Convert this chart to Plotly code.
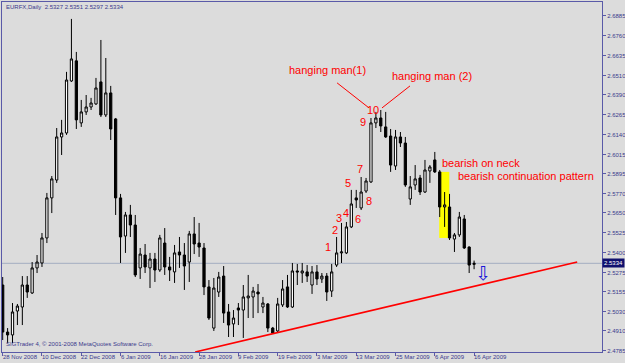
import plotly.graph_objects as go

# ---------------- data (EURFX daily, 28 Nov 2008 - 16 Apr 2009) ----------------
open_ = [2.5198, 2.4903, 2.4885, 2.5035, 2.5060, 2.5198, 2.5148, 2.5305, 2.5336, 2.5493,
         2.5744, 2.5856, 2.6126, 2.6151, 2.6477, 2.6603, 2.6214, 2.6283, 2.6314, 2.6333,
         2.6471, 2.6264, 2.6402, 2.6239, 2.5744, 2.5505, 2.5637, 2.5574, 2.5305, 2.5386,
         2.5305, 2.5361, 2.5292, 2.5461, 2.5311, 2.5280, 2.5405, 2.5386, 2.5342, 2.5518,
         2.5461, 2.5430, 2.5186, 2.4928, 2.5154, 2.5254, 2.5029, 2.4954, 2.5054, 2.5041,
         2.5117, 2.5123, 2.5154, 2.5060, 2.5079, 2.4928, 2.4910, 2.5073, 2.5186, 2.5060,
         2.5286, 2.5273, 2.5280, 2.5198, 2.5280, 2.5236, 2.5254, 2.5160, 2.5323, 2.5399,
         2.5399, 2.5562, 2.5744, 2.5681, 2.5787, 2.5844, 2.6214, 2.6245, 2.6189, 2.6132,
         2.5944, 2.6126, 2.6088, 2.5737, 2.5825, 2.5869, 2.5781, 2.5913, 2.5982, 2.5907,
         2.5687, 2.5687, 2.5486, 2.5512, 2.5612, 2.5436, 2.5327]
high = [2.5248, 2.4928, 2.5085, 2.5079, 2.5254, 2.5254, 2.5342, 2.5386, 2.5524, 2.5775,
        2.5881, 2.6182, 2.6233, 2.6534, 2.6866, 2.6659, 2.6358, 2.6389, 2.6371, 2.6496,
        2.6734, 2.6621, 2.6446, 2.6245, 2.5769, 2.5656, 2.5700, 2.5637, 2.5430, 2.5455,
        2.5399, 2.5399, 2.5512, 2.5555, 2.5374, 2.5449, 2.5499, 2.5461, 2.5537, 2.5624,
        2.5587, 2.5461, 2.5229, 2.5242, 2.5280, 2.5317, 2.5079, 2.5041, 2.5085, 2.5198,
        2.5261, 2.5186, 2.5204, 2.5123, 2.5085, 2.4935, 2.5117, 2.5229, 2.5261, 2.5336,
        2.5330, 2.5336, 2.5323, 2.5317, 2.5323, 2.5273, 2.5273, 2.5330, 2.5499, 2.5587,
        2.5593, 2.5794, 2.5794, 2.5875, 2.5869, 2.6245, 2.6283, 2.6295, 2.6283, 2.6176,
        2.6170, 2.6157, 2.6126, 2.5881, 2.5950, 2.5888, 2.5982, 2.5950, 2.6032, 2.5919,
        2.5781, 2.5769, 2.5524, 2.5656, 2.5637, 2.5440, 2.5351]
low = [2.4853, 2.4834, 2.4834, 2.4947, 2.4947, 2.5117, 2.5142, 2.5273, 2.5311, 2.5461,
       2.5649, 2.5838, 2.6013, 2.6139, 2.6471, 2.6176, 2.6189, 2.6264, 2.6295, 2.6327,
       2.6251, 2.6251, 2.6107, 2.5637, 2.5336, 2.5399, 2.5499, 2.5248, 2.5236, 2.5273,
       2.5179, 2.5217, 2.5280, 2.5261, 2.5223, 2.5211, 2.5305, 2.5167, 2.5217, 2.5392,
       2.5374, 2.5135, 2.4979, 2.4910, 2.5123, 2.4960, 2.4872, 2.4872, 2.4947, 2.4866,
       2.4991, 2.4991, 2.5022, 2.5022, 2.4903, 2.4891, 2.4903, 2.5060, 2.5054, 2.5054,
       2.5198, 2.5211, 2.5217, 2.5142, 2.5198, 2.5211, 2.5098, 2.5123, 2.5311, 2.5336,
       2.5392, 2.5555, 2.5681, 2.5668, 2.5775, 2.5838, 2.6182, 2.6157, 2.6120, 2.5907,
       2.5919, 2.6063, 2.5813, 2.5700, 2.5794, 2.5762, 2.5775, 2.5838, 2.5900, 2.5624,
       2.5562, 2.5480, 2.5405, 2.5499, 2.5424, 2.5273, 2.5297]
close = [2.4903, 2.4885, 2.5029, 2.5066, 2.5198, 2.5154, 2.5305, 2.5342, 2.5493, 2.5744,
         2.5863, 2.6126, 2.6151, 2.6483, 2.6615, 2.6233, 2.6283, 2.6314, 2.6339, 2.6433,
         2.6264, 2.6402, 2.6176, 2.5744, 2.5499, 2.5637, 2.5574, 2.5261, 2.5392, 2.5311,
         2.5361, 2.5292, 2.5493, 2.5311, 2.5292, 2.5399, 2.5386, 2.5317, 2.5518, 2.5455,
         2.5436, 2.5186, 2.4991, 2.5179, 2.5248, 2.5022, 2.4947, 2.4991, 2.5041, 2.5123,
         2.5129, 2.5160, 2.5142, 2.5085, 2.4928, 2.4897, 2.5079, 2.5173, 2.5060, 2.5286,
         2.5280, 2.5286, 2.5254, 2.5280, 2.5236, 2.5254, 2.5154, 2.5280, 2.5399, 2.5405,
         2.5562, 2.5706, 2.5731, 2.5781, 2.5850, 2.6214, 2.6245, 2.6195, 2.6126, 2.5950,
         2.6126, 2.6088, 2.5825, 2.5813, 2.5863, 2.5781, 2.5919, 2.5938, 2.5907, 2.5687,
         2.5700, 2.5493, 2.5512, 2.5624, 2.5430, 2.5323, 2.5334]

date_tick_bars = [0, 8, 16, 24, 32, 40, 48, 56, 64, 72, 80, 88, 96]
date_tick_labels = ["28 Nov 2008", "10 Dec 2008", "22 Dec 2008", "6 Jan 2009", "16 Jan 2009",
                    "28 Jan 2009", "9 Feb 2009", "19 Feb 2009", "3 Mar 2009", "13 Mar 2009",
                    "25 Mar 2009", "6 Apr 2009", "16 Apr 2009"]
price_ticks = [2.6885, 2.6760, 2.6635, 2.6510, 2.6390, 2.6265, 2.6140, 2.6015, 2.5895,
               2.5770, 2.5650, 2.5525, 2.5400, 2.5275, 2.5155, 2.5030, 2.4910, 2.4785]

# annotation text
count_labels = ["1", "2", "3", "4", "5", "6", "7", "8", "9", "10"]
count_bar = [66.25, 67.68, 68.56, 69.86, 70.39, 72.42, 72.77, 74.66, 73.44, 75.36]
count_price = [2.5436, 2.5543, 2.5618, 2.5650, 2.5838, 2.5612, 2.5925, 2.5725, 2.6220, 2.6295]

# ---------------- styling ----------------
BG = "#dcdcdc"
AXIS = "#5a5aa8"
TXT = "#3a3a8c"
RED = "#ff0000"
SMALL = dict(family="Liberation Sans, Arial, sans-serif", size=6, color=TXT)
LABEL = dict(family="Liberation Sans, Arial, sans-serif", size=11, color=RED)

x = list(range(len(open_)))

fig = go.Figure()
fig.add_trace(go.Candlestick(
    x=x, open=open_, high=high, low=low, close=close,
    increasing=dict(fillcolor="#ffffff", line=dict(color="#000000", width=1)),
    decreasing=dict(fillcolor="#000000", line=dict(color="#000000", width=1)),
    whiskerwidth=0, showlegend=False, hoverinfo="skip",
))

shapes = []
# yellow highlight (bearish continuation)
shapes.append(dict(type="rect", xref="x", yref="y", x0=88.9, x1=90.95, y0=2.5493, y1=2.5907,
                   fillcolor="#ffff00", line=dict(width=0), layer="below"))
# current price line
shapes.append(dict(type="line", xref="paper", yref="y", x0=0, x1=1, y0=close[-1], y1=close[-1],
                   line=dict(color="#aeb6c6", width=1.2), layer="below"))
# trend line
shapes.append(dict(type="line", xref="x", yref="y", x0=39.2, y0=2.4778, x1=117.0, y1=2.5342,
                   line=dict(color=RED, width=1.6)))
# hanging man pointer lines
shapes.append(dict(type="line", xref="x", yref="y", x0=68.1, y0=2.6465, x1=74.6, y1=2.6308,
                   line=dict(color=RED, width=1)))
shapes.append(dict(type="line", xref="x", yref="y", x0=77.25, y0=2.6308, x1=82.95, y1=2.6446,
                   line=dict(color=RED, width=1)))

ann = []
for t, bx, py in zip(count_labels, count_bar, count_price):
    ann.append(dict(x=bx, y=py, xref="x", yref="y", text=t, showarrow=False, font=LABEL))
ann.append(dict(x=66.05, y=2.6546, xref="x", yref="y", text="hanging man(1)", showarrow=False, font=LABEL))
ann.append(dict(x=87.43, y=2.6509, xref="x", yref="y", text="hanging man (2)", showarrow=False, font=LABEL))
ann.append(dict(x=97.41, y=2.5963, xref="x", yref="y", text="bearish on neck", showarrow=False, font=LABEL))
ann.append(dict(x=106.5, y=2.5882, xref="x", yref="y", text="bearish continuation pattern",
                showarrow=False, font=LABEL))
ann.append(dict(x=97.8, y=2.5273, xref="x", yref="y", text="⇩", showarrow=False,
                font=dict(family="DejaVu Sans", size=19, color="#1a1ad8")))
# date labels along the bottom axis (left-aligned at their tick, like MetaTrader)
for bx, t in zip(date_tick_bars, date_tick_labels):
    ann.append(dict(x=bx, y=0, xref="x", yref="paper", xanchor="left", yanchor="top",
                    xshift=-1, yshift=-1, text=t, showarrow=False, font=SMALL, borderpad=0))
# header and footer
ann.append(dict(x=0.0035, y=0.986, xref="paper", yref="paper", xanchor="left", yanchor="middle",
                text=f"EURFX,Daily  {open_[-1]:.4f} {high[-1]:.4f} {low[-1]:.4f} {close[-1]:.4f}",
                showarrow=False, font=SMALL))
ann.append(dict(x=0.0035, y=0.023, xref="paper", yref="paper", xanchor="left", yanchor="middle",
                text="SIGTrader 4, © 2001-2008 MetaQuotes Software Corp.", showarrow=False, font=SMALL))
# current price box on axis
ann.append(dict(x=1, y=close[-1], xref="paper", yref="y", xanchor="left", yanchor="middle",
                text=f"{close[-1]:.4f}", showarrow=False, bgcolor="#10106e",
                font=dict(family="Liberation Sans, Arial, sans-serif", size=6, color="#ffffff"),
                borderpad=1))

fig.update_layout(
    width=625, height=363,
    margin=dict(l=2, r=23, t=2, b=11),
    paper_bgcolor=BG, plot_bgcolor=BG,
    shapes=shapes, annotations=ann,
    showlegend=False, boxgap=0.35,
    xaxis=dict(range=[-0.14, 122.05], rangeslider=dict(visible=False), showgrid=False,
               zeroline=False, showline=True, linecolor=AXIS, linewidth=1, mirror=True,
               ticks="outside", ticklen=3, tickcolor=AXIS, tickvals=date_tick_bars,
               showticklabels=False, automargin=False),
    yaxis=dict(range=[2.4778, 2.6972], side="right", showgrid=False, zeroline=False,
               showline=True, linecolor=AXIS, linewidth=1, mirror=True,
               ticks="outside", ticklen=3, tickcolor=AXIS, tickvals=price_ticks,
               ticktext=[f"{v:.4f}" for v in price_ticks], tickfont=SMALL, automargin=False),
)

fig.write_html("out.html")
